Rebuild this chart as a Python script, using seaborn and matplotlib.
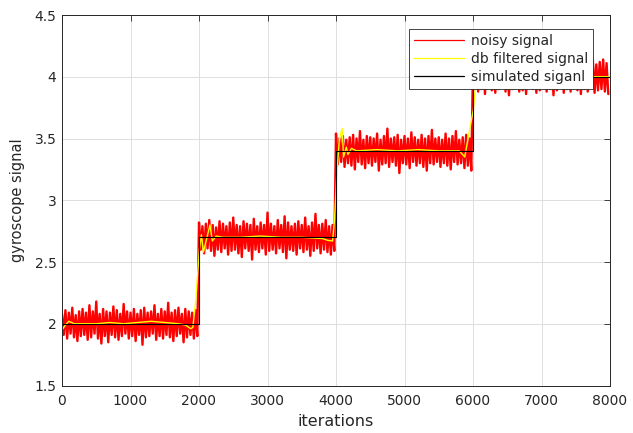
import matplotlib
matplotlib.use("Agg")
import matplotlib.pyplot as plt
from matplotlib.ticker import FuncFormatter
import seaborn as sns

# ---------------- data ----------------
step_starts = [0, 2000, 4000, 6000]
step_end = 8000
levels = [2.0, 2.7, 3.4, 4.0]

# noisy signal: upper / lower spike offsets around each level (every 50 iterations)
seg1_hi = [0.08, 0.11, 0.09, 0.13, 0.07, 0.10, 0.12, 0.09, 0.15, 0.10,
           0.18, 0.08, 0.12, 0.10, 0.09, 0.14, 0.11, 0.08, 0.16, 0.10,
           0.09, 0.12, 0.08, 0.11, 0.13, 0.09, 0.10, 0.15, 0.08, 0.12,
           0.10, 0.17, 0.09, 0.11, 0.13, 0.08, 0.12, 0.10, 0.09, 0.11]
seg1_lo = [-0.09, -0.12, -0.08, -0.11, -0.14, -0.10, -0.09, -0.13, -0.11, -0.08,
           -0.12, -0.16, -0.10, -0.15, -0.09, -0.11, -0.13, -0.10, -0.08, -0.12,
           -0.10, -0.14, -0.09, -0.17, -0.11, -0.10, -0.08, -0.13, -0.10, -0.12,
           -0.09, -0.11, -0.14, -0.10, -0.08, -0.15, -0.11, -0.09, -0.12, -0.10]
seg2_hi = [0.12, 0.09, 0.11, 0.14, 0.10, 0.08, 0.13, 0.11, 0.09, 0.12,
           0.16, 0.10, 0.09, 0.13, 0.11, 0.10, 0.15, 0.09, 0.12, 0.10,
           0.20, 0.11, 0.09, 0.14, 0.10, 0.17, 0.12, 0.09, 0.11, 0.13,
           0.10, 0.16, 0.09, 0.12, 0.19, 0.10, 0.11, 0.14, 0.09, 0.10]
seg2_lo = [-0.10, -0.13, -0.09, -0.11, -0.15, -0.10, -0.12, -0.09, -0.14, -0.11,
           -0.10, -0.13, -0.16, -0.09, -0.11, -0.18, -0.10, -0.12, -0.09, -0.14,
           -0.11, -0.10, -0.13, -0.09, -0.12, -0.17, -0.10, -0.11, -0.14, -0.09,
           -0.12, -0.10, -0.15, -0.11, -0.09, -0.13, -0.10, -0.12, -0.14, -0.11]
seg3_hi = [0.14, 0.10, 0.12, 0.09, 0.11, 0.13, 0.10, 0.16, 0.09, 0.12,
           0.11, 0.10, 0.14, 0.09, 0.12, 0.18, 0.10, 0.11, 0.13, 0.09,
           0.12, 0.10, 0.15, 0.11, 0.09, 0.13, 0.10, 0.12, 0.17, 0.10,
           0.11, 0.09, 0.14, 0.10, 0.12, 0.16, 0.09, 0.11, 0.13, 0.10]
seg3_lo = [-0.11, -0.09, -0.13, -0.10, -0.12, -0.15, -0.09, -0.11, -0.14, -0.10,
           -0.12, -0.09, -0.16, -0.11, -0.10, -0.13, -0.09, -0.12, -0.18, -0.10,
           -0.11, -0.14, -0.09, -0.12, -0.10, -0.13, -0.16, -0.10, -0.11, -0.09,
           -0.13, -0.10, -0.12, -0.15, -0.09, -0.11, -0.10, -0.14, -0.12, -0.16]
seg4_hi = [0.10, 0.12, 0.09, 0.11, 0.13, 0.10, 0.08, 0.12, 0.14, 0.09,
           0.11, 0.10, 0.13, 0.09, 0.12, 0.10, 0.15, 0.11, 0.09, 0.12,
           0.10, 0.13, 0.09, 0.11, 0.14, 0.10, 0.12, 0.09, 0.11, 0.13,
           0.10, 0.12, 0.15, 0.09, 0.11, 0.13, 0.10, 0.12, 0.14, 0.11]
seg4_lo = [-0.09, -0.12, -0.10, -0.14, -0.09, -0.11, -0.13, -0.10, -0.08, -0.12,
           -0.15, -0.10, -0.09, -0.12, -0.11, -0.14, -0.09, -0.10, -0.13, -0.11,
           -0.09, -0.12, -0.10, -0.15, -0.11, -0.09, -0.13, -0.10, -0.12, -0.09,
           -0.11, -0.14, -0.10, -0.12, -0.09, -0.13, -0.11, -0.10, -0.12, -0.14]
noise_spacing = 50

# db filtered signal (yellow)
filt_x = [0, 50, 100, 180, 300, 500, 700, 900, 1100, 1300, 1500, 1700, 1800,
          1880, 1910, 1955, 2005, 2035, 2065, 2160, 2195, 2250, 2350, 2600,
          2900, 3200, 3500, 3800, 3880, 3950, 3980, 4010, 4050, 4090, 4110,
          4150, 4175, 4225, 4300, 4600, 4900, 5200, 5500, 5800, 5880, 5930,
          6005, 6040, 6090, 6130, 6200, 6500, 6800, 7100, 7400, 7700, 8000]
filt_y = [1.95, 1.99, 2.02, 2.00, 2.00, 2.00, 2.01, 2.00, 2.01, 2.02, 2.01,
          2.00, 1.99, 1.96, 1.97, 2.20, 2.60, 2.72, 2.58, 2.80, 2.67, 2.71,
          2.70, 2.70, 2.71, 2.70, 2.70, 2.69, 2.675, 2.67, 2.85, 3.20, 3.50,
          3.58, 3.35, 3.43, 3.37, 3.42, 3.40, 3.41, 3.40, 3.41, 3.40, 3.40,
          3.35, 3.51, 3.73, 3.95, 4.03, 3.98, 4.00, 4.01, 4.00, 4.00, 4.01,
          4.00, 4.00]

x_ticks = [0, 1000, 2000, 3000, 4000, 5000, 6000, 7000, 8000]
y_ticks = [1.5, 2.0, 2.5, 3.0, 3.5, 4.0, 4.5]

# ---------------- derived series ----------------
noisy_x, noisy_y = [], []
for start, level, hi, lo in zip(step_starts, levels,
                                [seg1_hi, seg2_hi, seg3_hi, seg4_hi],
                                [seg1_lo, seg2_lo, seg3_lo, seg4_lo]):
    for i in range(len(hi)):
        noisy_x.append(start + noise_spacing * i)
        noisy_y.append(level + hi[i])
        noisy_x.append(start + noise_spacing * i + noise_spacing / 2)
        noisy_y.append(level + lo[i])

sim_x, sim_y = [], []
ends = step_starts[1:] + [step_end]
for start, end, level in zip(step_starts, ends, levels):
    sim_x += [start, end]
    sim_y += [level, level]

# ---------------- plot ----------------
sns.set_style("white")
plt.rcParams["font.family"] = ["DejaVu Sans"]
plt.rcParams["path.simplify"] = False

fig = plt.figure(figsize=(6.33, 4.33), dpi=100)
ax = fig.add_axes([62 / 633, (433 - 385.5) / 433, 548 / 633, 370.5 / 433])

sns.lineplot(x=noisy_x, y=noisy_y, color="#ff0000", linewidth=1.7,
             estimator=None, sort=False, label="noisy signal", ax=ax)
sns.lineplot(x=filt_x, y=filt_y, color="#ffff00", linewidth=1.0,
             estimator=None, sort=False, label="db filtered signal", ax=ax)
sns.lineplot(x=sim_x, y=sim_y, color="#000000", linewidth=0.8,
             estimator=None, sort=False, label="simulated siganl", ax=ax)

ax.set_xlim(0, 8000)
ax.set_ylim(1.5, 4.5)
ax.set_xticks(x_ticks)
ax.set_yticks(y_ticks)
ax.yaxis.set_major_formatter(FuncFormatter(lambda v, p: f"{v:g}"))
ax.xaxis.set_major_formatter(FuncFormatter(lambda v, p: f"{v:g}"))

ax.set_axisbelow(True)
ax.grid(True, color="#dedede", linewidth=0.7)
for sp in ax.spines.values():
    sp.set_visible(True)
    sp.set_color("#262626")
    sp.set_linewidth(0.7)
ax.tick_params(direction="in", top=True, right=True, length=4, width=0.6,
               colors="#262626", labelsize=10, pad=4)
ax.tick_params(axis="x", pad=6)

ax.set_xlabel("iterations", fontsize=11.5, color="#262626")
ax.set_ylabel("gyroscope signal", fontsize=10.5, color="#262626")
ax.xaxis.set_label_coords(0.5, -0.078)
ax.yaxis.set_label_coords(-0.068, 0.5)

leg = ax.legend(loc="upper right", bbox_to_anchor=(0.969, 0.962), fontsize=10,
                frameon=True, fancybox=False, framealpha=1, edgecolor="#262626",
                handlelength=3.6, handletextpad=0.5, borderpad=0.35,
                labelspacing=0.3, borderaxespad=0.0)
leg.get_frame().set_linewidth(0.6)
for line in leg.get_lines():
    line.set_linewidth(0.9)

fig.savefig("out.png", dpi=100)
